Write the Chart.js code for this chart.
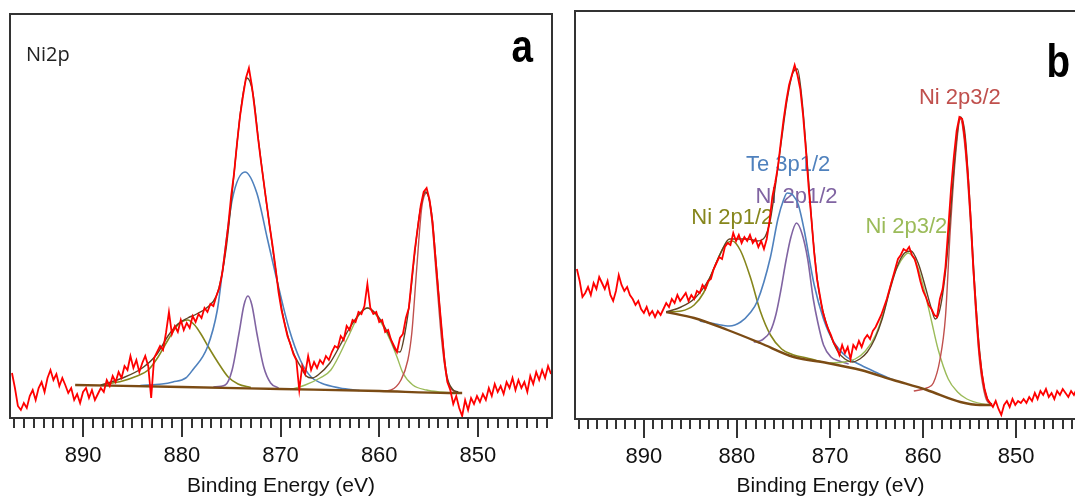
<!DOCTYPE html>
<html>
<head>
<meta charset="utf-8">
<script src="https://cdn.jsdelivr.net/npm/chart.js@4.4.1/dist/chart.umd.min.js"></script>
<style>
  html,body{margin:0;padding:0;background:#fff;width:1075px;height:497px;overflow:hidden;position:relative}
  canvas{position:absolute;top:0}
  #chartA{left:0}
  #chartB{left:565px}
</style>
</head>
<body>
<canvas id="chartA" width="562" height="497"></canvas>
<canvas id="chartB" width="531" height="497"></canvas>
<script>
/* Ni2p XPS – panel a (Ni2p) e panel b (fit con Te 3p1/2)
   valori letti a occhio dal grafico, intensità in unità arbitrarie */

const X_MIN = 842.5, X_MAX = 897.4;

// energie del segnale misurato (stessa griglia per a e b)
const rawE = [
  897.2, 896.9, 896.6, 896.3, 896.0, 895.7, 895.4, 895.1, 894.8, 894.5,
  894.2, 893.9, 893.6, 893.3, 893.0, 892.7, 892.4, 892.1, 891.8, 891.5,
  891.2, 890.9, 890.6, 890.3, 890.0, 889.7, 889.4, 889.1, 888.8, 888.5,
  888.2, 887.9, 887.6, 887.3, 887.0, 886.7, 886.4, 886.1, 885.8, 885.5,
  885.2, 884.9, 884.6, 884.3, 884.0, 883.7, 883.4, 883.1, 882.8, 882.5,
  882.2, 881.9, 881.6, 881.3, 881.0, 880.7, 880.4, 880.1, 879.8, 879.5,
  879.2, 878.9, 878.6, 878.3, 878.0, 877.7, 877.4, 877.1, 876.8, 876.5,
  876.2, 875.9, 875.6, 875.3, 875.0, 874.7, 874.4, 874.1, 873.8, 873.5,
  873.2, 872.9, 872.6, 872.3, 872.0, 871.7, 871.4, 871.1, 870.8, 870.5,
  870.2, 869.9, 869.6, 869.3, 869.0, 868.7, 868.4, 868.1, 867.8, 867.5,
  867.2, 866.9, 866.6, 866.3, 866.0, 865.7, 865.4, 865.1, 864.8, 864.5,
  864.2, 863.9, 863.6, 863.3, 863.0, 862.7, 862.4, 862.1, 861.8, 861.5,
  861.2, 860.9, 860.6, 860.3, 860.0, 859.7, 859.4, 859.1, 858.8, 858.5,
  858.2, 857.9, 857.6, 857.3, 857.0, 856.7, 856.4, 856.1, 855.8, 855.5,
  855.2, 854.9, 854.6, 854.3, 854.0, 853.7, 853.4, 853.1, 852.8, 852.5,
  852.2, 851.9, 851.6, 851.3, 851.0, 850.7, 850.4, 850.1, 849.8, 849.5,
  849.2, 848.9, 848.6, 848.3, 848.0, 847.7, 847.4, 847.1, 846.8, 846.5,
  846.2, 845.9, 845.6, 845.3, 845.0, 844.7, 844.4, 844.1, 843.8, 843.5,
  843.2, 842.9, 842.6
];

// ---- panel a ----
const rawA = [
  45, 30, 12, 8, 15, 10, 22, 28, 18, 30,
  36, 26, 40, 48, 38, 44, 32, 40, 33, 25,
  30, 18, 24, 15, 26, 30, 20, 28, 18, 24,
  30, 26, 38, 32, 42, 36, 46, 40, 52, 48,
  62, 50, 58, 46, 55, 62, 52, 20, 60, 66,
  72, 68, 85, 106, 84, 92, 86, 98, 88, 95,
  90, 102, 96, 104, 100, 110, 106, 114, 112, 122,
  130, 145, 168, 192, 222, 245, 275, 302, 322, 340,
  350, 332, 308, 282, 258, 236, 214, 192, 172, 150,
  126, 108, 95, 82, 74, 64, 58, 28, 52, 44,
  62, 48, 56, 50, 58, 54, 62, 58, 66, 72,
  70, 82, 78, 92, 88, 98, 96, 106, 104, 112,
  134, 110, 104, 106, 96, 98, 86, 88, 78, 72,
  66, 80, 84, 100, 110, 140, 168, 190, 212, 226,
  230, 218, 196, 160, 125, 92, 58, 36, 28, 14,
  22, 10, 2, 18, 8, 20, 14, 22, 16, 24,
  18, 30, 22, 34, 26, 32, 24, 36, 30, 40,
  28, 38, 30, 36, 26, 42, 34, 46, 38, 48,
  40, 52, 44
];
const baseAE = [890.8, 880, 870, 860, 853, 851.6];
const baseAV = [33, 31, 29, 27, 25, 25];
const oliveAE = [888.2, 886.0, 884.8, 883.4, 882.4, 881.4, 880.4, 879.4, 878.7, 878.0, 877.3, 876.3, 875.3, 874.3, 873.0];
const oliveAV = [33, 37, 41, 48, 61, 78, 93, 98, 93, 83, 71, 55, 41, 34, 30.5];
const blueAE = [884.2, 882.0, 880.9, 879.6, 878.9, 877.4, 876.4, 875.9, 874.9, 873.6, 872.4, 871.3, 870.2, 869.1, 868.0, 866.9, 865.9, 864.0, 862.0];
const blueAV = [32.5, 34, 36, 40, 48, 71, 108, 145, 218, 246, 225, 178, 131, 88, 58, 41, 35, 30, 27.5];
const purpleAE = [876.8, 875.6, 874.9, 874.2, 873.7, 873.3, 872.9, 872.4, 871.7, 871.0, 870.2];
const purpleAV = [31, 33, 48, 85, 113, 122, 113, 85, 51, 35, 30];
const greenAE = [869.0, 867.5, 866.0, 864.9, 863.2, 862.0, 861.2, 860.4, 859.5, 858.9, 858.2, 857.6, 856.6, 855.2, 853.8, 852.5];
const greenAV = [28.5, 33, 40, 48, 80, 104, 110, 104, 90, 78, 61, 45, 33, 28, 26, 25];
const redAE = [859.5, 858.8, 857.8, 857.1, 856.7, 856.2, 855.7, 855.2, 854.7, 854.2, 853.7, 853.2, 852.6, 852.0];
const redAV = [27, 28, 38, 58, 85, 150, 210, 225, 200, 140, 80, 42, 28, 25.5];
const envAE = [888.2, 886, 884, 882.5, 881.4, 880.4, 879.4, 878.5, 877.5, 876.5, 876, 875.5, 875, 874.5, 874, 873.4, 872.8, 872.2, 871.6, 871,
  870.4, 869.8, 869.2, 868.6, 868, 867.4, 866.8, 866.2, 865, 864, 863, 862, 861.2, 860.4, 859.5, 858.8, 858.3, 857.9, 857.4, 856.9,
  856.4, 855.9, 855.3, 854.7, 854.2, 853.7, 853.2, 852.6, 852];
const envAV = [33, 40, 50, 64, 82, 94, 100, 104, 110, 122, 140, 170, 215, 265, 310, 340, 325, 275, 228, 185,
  142, 105, 80, 63, 52, 42, 40, 43, 55, 72, 90, 104, 110, 105, 92, 78, 67, 66, 85, 118,
  165, 205, 226, 205, 150, 90, 45, 29, 26];

// ---- panel b ----
const rawB = [
  150, 138, 122, 126, 132, 124, 136, 130, 142, 136,
  130, 138, 124, 118, 128, 144, 134, 128, 132, 124,
  120, 114, 118, 110, 106, 112, 104, 108, 102, 108,
  104, 110, 116, 112, 120, 116, 124, 118, 122, 126,
  118, 124, 120, 128, 126, 134, 130, 138, 140, 150,
  156, 162, 160, 172, 176, 174, 186, 178, 184, 176,
  182, 178, 184, 176, 180, 172, 178, 170, 180, 198,
  222, 236, 252, 276, 299, 318, 334, 344, 354, 344,
  330, 304, 270, 232, 200, 166, 140, 124, 108, 98,
  90, 84, 76, 72, 64, 74, 66, 72, 60, 74,
  70, 78, 72, 80, 84, 80, 88, 92, 98, 104,
  112, 120, 130, 140, 150, 160, 164, 170, 168, 172,
  164, 160, 150, 138, 128, 122, 114, 110, 104, 102,
  120, 130, 152, 190, 230, 262, 288, 302, 300, 279,
  246, 202, 150, 108, 70, 46, 30, 20, 16, 12,
  18, 10, 4, 14, 18, 12, 20, 14, 18, 16,
  20, 16, 22, 18, 26, 20, 28, 24, 30, 22,
  26, 20, 28, 24, 30, 26, 22, 28, 24, 30,
  26, 32, 28
];
const baseBE = [887.6, 884.6, 881.0, 877.5, 873.9, 870.3, 866.7, 863.2, 859.6, 856.0, 853.9, 852.6];
const baseBV = [107, 101, 89, 76, 62, 56, 49, 39, 29, 17, 14, 14];
const oliveBE = [887.6, 886.0, 884.6, 883.6, 882.5, 881.4, 880.5, 879.6, 878.5, 877.5, 876.4, 875.2, 873.9, 872.5, 870.8];
const oliveBV = [107, 108, 114, 126, 150, 172, 178, 168, 140, 108, 84, 70, 64, 61, 57];
const blueBE = [884.0, 882.3, 880.8, 879.6, 878.6, 877.8, 876.4, 875.6, 875.0, 874.6, 874.0, 873.4, 872.8, 871.7, 870.7, 869.6, 868.2, 866.7, 864.9, 863.2];
const blueBV = [98, 95, 93, 97, 106, 118, 162, 200, 219, 226, 224, 214, 190, 134, 100, 77, 62, 54, 46, 39];
const purpleBE = [878.2, 877.3, 876.4, 875.8, 875.3, 874.7, 874.2, 873.6, 873.0, 872.4, 871.8, 871.3, 870.7, 869.9, 869.0, 868.0];
const purpleBV = [77, 79, 88, 105, 128, 160, 182, 196, 185, 160, 120, 96, 74, 62, 58, 55];
const greenBE = [870.0, 868.5, 867.3, 866.2, 865.1, 864.2, 863.3, 862.4, 861.6, 860.7, 859.8, 859.1, 858.4, 857.3, 856.3, 855.3, 853.6, 852.6];
const greenBV = [56, 57, 60, 68, 84, 108, 140, 158, 166, 155, 126, 98, 70, 40, 27, 20, 15, 14];
const redBE = [861.0, 859.6, 858.9, 858.2, 857.6, 857.1, 856.5, 856.0, 855.5, 854.9, 854.4, 853.9, 853.3, 852.6];
const redBV = [28, 31, 36, 59, 102, 186, 265, 300, 272, 195, 115, 55, 22, 14];
const envBE = [887.6, 886, 884.5, 883, 881.8, 880.8, 879.8, 878.8, 877.8, 877, 876.4, 875.8, 875.2, 874.6, 874, 873.5, 873, 872.4, 871.8, 871.2,
  870.6, 870, 869.2, 868.4, 867.6, 866.8, 866, 865.2, 864.4, 863.6, 862.8, 862, 861.3, 860.5, 859.7, 859.1, 858.7, 858.3, 857.9, 857.4,
  856.9, 856.4, 856, 855.5, 855, 854.5, 854, 853.5, 853, 852.6];
const envBV = [107, 112, 121, 140, 165, 180, 180, 180, 178, 182, 200, 238, 280, 320, 346, 350, 318, 250, 178, 128,
  102, 85, 68, 60, 57, 60, 67, 80, 100, 128, 152, 166, 168, 155, 130, 110, 100, 106, 125, 165,
  225, 280, 302, 285, 220, 140, 75, 35, 18, 15];

// etichette dei picchi (panel b): testo, colore, energia, intensità
const peakLabels = ['Ni 2p3/2', 'Te 3p1/2', 'Ni 2p1/2', 'Ni 2p1/2', 'Ni 2p3/2'];
const peakLabelColors = ['#c0504d', '#4f81bd', '#8064a2', '#86861c', '#9bbb59'];
const peakLabelE = [856.05, 874.5, 873.6, 880.5, 861.8];
const peakLabelV = [321, 254, 222, 201, 192];

const COLORS = {
  raw:'#ff0000', env:'#5e4424', base:'#7b4b14',
  olive:'#86861c', blue:'#4f81bd', purple:'#8064a2', green:'#9bbb59', redb:'#c0504d'
};
const FONT = "'Liberation Sans', Arial, sans-serif";

function line(xs, ys, color, width, smooth){
  return {
    data: xs.map((x,i)=>({x, y:ys[i]})),
    borderColor: color, borderWidth: width,
    pointRadius: 0, fill: false,
    tension: smooth ? 0.4 : 0,
    cubicInterpolationMode: smooth ? 'monotone' : 'default'
  };
}

// cornice, tacche, etichette
const framePlugin = {
  id:'frame',
  beforeDatasetsDraw(chart, args, opts){
    const {ctx, scales:{x, y}} = chart;
    if(!opts.labels) return;
    ctx.save();
    ctx.font = '22px ' + FONT;
    ctx.textAlign = 'center';
    ctx.textBaseline = 'middle';
    opts.labels.forEach(l=>{
      ctx.fillStyle = l.color;
      ctx.fillText(l.text, x.getPixelForValue(l.e), y.getPixelForValue(l.v));
    });
    ctx.restore();
  },
  afterDraw(chart, args, opts){
    const {ctx, chartArea:a, scales:{x}} = chart;
    ctx.save();
    ctx.strokeStyle = '#333';
    ctx.lineWidth = 2;
    ctx.strokeRect(a.left, a.top, a.right-a.left, a.bottom-a.top);
    ctx.beginPath();
    for(const t of x.ticks){
      if(Math.abs(t.value - Math.round(t.value)) > 1e-6) continue;
      const px = Math.round(x.getPixelForValue(t.value));
      const len = Math.round(t.value) % 10 === 0 ? 19 : 10;
      ctx.moveTo(px, a.bottom);
      ctx.lineTo(px, a.bottom + len);
    }
    ctx.stroke();
    if(opts.tag){
      ctx.fillStyle = '#222';
      ctx.font = "20px 'Open Sans', sans-serif";
      ctx.textAlign = 'left';
      ctx.textBaseline = 'alphabetic';
      ctx.fillText(opts.tag, a.left + 16, a.top + 47);
    }
    // lettera del pannello, un po' stretta come nell'originale
    ctx.fillStyle = '#000';
    ctx.font = "bold 46px 'Liberation Sans', sans-serif";
    ctx.textAlign = 'right';
    ctx.textBaseline = 'alphabetic';
    ctx.translate(a.right - opts.letterDx, a.top + opts.letterDy);
    ctx.scale(0.84, 1);
    ctx.fillText(opts.letter, 0, 0);
    ctx.restore();
  }
};

function makeChart(id, cfg){
  return new Chart(document.getElementById(id), {
    type:'line',
    data:{datasets: cfg.datasets},
    options:{
      responsive:false, animation:false, devicePixelRatio:1,
      layout:{padding:{left:10, right:10, top:cfg.top, bottom:0}},
      plugins:{legend:{display:false}, tooltip:{enabled:false}, frame:cfg.frame},
      scales:{
        x:{
          type:'linear', reverse:true, min:X_MIN, max:X_MAX,
          // altezza fissa dell'asse e niente margini laterali automatici
          afterFit(s){ s.height = cfg.axisH; s.paddingLeft = 0; s.paddingRight = 0; },
          grid:{display:false, drawTicks:false},
          border:{display:false},
          ticks:{
            stepSize:1, autoSkip:false, maxRotation:0, includeBounds:false,
            padding:25, color:'#111', font:{family:FONT, size:22},
            callback:v => Math.abs(v % 10) < 1e-6 ? String(Math.round(v)) : ''
          },
          title:{display:true, text:'Binding Energy (eV)', color:'#111',
                 font:{family:FONT, size:21, lineHeight:1}, padding:0}
        },
        y:{display:false, min:0, max:cfg.yMax}
      }
    },
    plugins:[framePlugin]
  });
}

document.addEventListener('DOMContentLoaded', ()=>{
  makeChart('chartA', {
    top:14, axisH:79, yMax:404,
    frame:{tag:'Ni2p', letter:'a', letterDx:19, letterDy:48},
    datasets:[
      line(rawE, rawA, COLORS.raw, 1.8, false),
      line(envAE, envAV, COLORS.env, 1.4, true),
      line(baseAE, baseAV, COLORS.base, 2.4, true),
      line(redAE, redAV, COLORS.redb, 1.4, true),
      line(greenAE, greenAV, COLORS.green, 1.4, true),
      line(purpleAE, purpleAV, COLORS.purple, 1.6, true),
      line(blueAE, blueAV, COLORS.blue, 1.6, true),
      line(oliveAE, oliveAV, COLORS.olive, 1.6, true)
    ]
  });
  makeChart('chartB', {
    top:11, axisH:78, yMax:408,
    frame:{
      letter:'b', letterDx:16, letterDy:66,
      labels: peakLabels.map((t,i)=>({text:t, color:peakLabelColors[i], e:peakLabelE[i], v:peakLabelV[i]}))
    },
    datasets:[
      line(rawE, rawB, COLORS.raw, 1.8, false),
      line(envBE, envBV, COLORS.env, 1.4, true),
      line(baseBE, baseBV, COLORS.base, 2.4, true),
      line(redBE, redBV, COLORS.redb, 1.4, true),
      line(greenBE, greenBV, COLORS.green, 1.4, true),
      line(purpleBE, purpleBV, COLORS.purple, 1.6, true),
      line(blueBE, blueBV, COLORS.blue, 1.6, true),
      line(oliveBE, oliveBV, COLORS.olive, 1.6, true)
    ]
  });
});
</script>
</body>
</html>
